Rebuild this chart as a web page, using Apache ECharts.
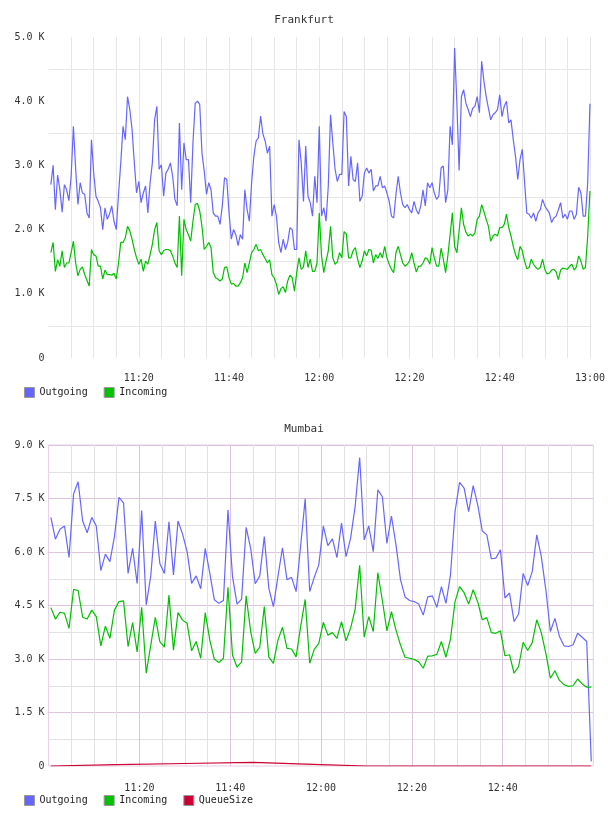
<!DOCTYPE html>
<html>
<head>
<meta charset="utf-8">
<title>Frankfurt / Mumbai</title>
<script src="https://cdn.jsdelivr.net/npm/echarts@6/dist/echarts.min.js"></script>
<style>
  html, body { margin: 0; padding: 0; background: #fff; }
  #chart { width: 608px; height: 816px; }
</style>
</head>
<body>
<div id="chart"></div>
<script>
// x values are minutes after 11:00, y values are in thousands (K)
const frankfurtStart = 0.5
const frankfurtStep = 0.5
const frankfurtOutgoing = [
  2.70, 3.00, 2.31, 2.85, 2.62, 2.27, 2.70, 2.62, 2.45, 2.83,
  3.61, 2.94, 2.39, 2.73, 2.57, 2.55, 2.26, 2.18, 3.40, 2.88,
  2.52, 2.44, 2.34, 2.00, 2.34, 2.16, 2.24, 2.37, 2.13, 2.00,
  2.55, 3.04, 3.61, 3.40, 4.07, 3.87, 3.56, 3.04, 2.57, 2.75,
  2.42, 2.57, 2.68, 2.26, 2.73, 3.04, 3.71, 3.92, 2.94, 3.01,
  2.52, 2.88, 2.94, 3.04, 2.83, 2.47, 2.37, 3.66, 2.62, 3.35,
  3.09, 3.09, 2.42, 3.35, 3.97, 4.00, 3.95, 3.19, 2.91, 2.55,
  2.73, 2.62, 2.26, 2.21, 2.21, 2.08, 2.37, 2.81, 2.78, 2.26,
  1.85, 2.00, 1.92, 1.75, 1.92, 1.85, 2.62, 2.31, 2.13, 2.73,
  3.14, 3.38, 3.43, 3.77, 3.49, 3.38, 3.19, 3.30, 2.21, 2.39,
  2.21, 1.80, 1.64, 1.85, 1.69, 1.80, 2.03, 2.00, 1.69, 1.69,
  3.40, 3.04, 2.44, 3.30, 2.52, 2.42, 2.21, 2.83, 2.42, 3.61,
  2.21, 2.34, 2.13, 2.68, 3.79, 3.35, 2.94, 2.75, 2.86, 2.86,
  3.84, 3.76, 2.68, 3.14, 2.78, 2.75, 3.04, 2.44, 2.52, 2.88,
  2.96, 2.88, 2.94, 2.60, 2.68, 2.68, 2.83, 2.65, 2.68, 2.57,
  2.44, 2.21, 2.18, 2.55, 2.83, 2.57, 2.39, 2.34, 2.39, 2.31,
  2.26, 2.44, 2.31, 2.24, 2.37, 2.62, 2.37, 2.73, 2.65, 2.73,
  2.57, 2.47, 2.52, 2.96, 2.99, 2.42, 2.62, 3.61, 3.32, 4.83,
  3.97, 2.92, 4.07, 4.18, 3.97, 3.87, 3.76, 3.89, 3.92, 4.07,
  3.82, 4.62, 4.31, 4.07, 3.89, 3.71, 3.79, 3.82, 3.87, 4.10,
  3.76, 3.92, 4.00, 3.66, 3.71, 3.40, 3.14, 2.78, 3.09, 3.25,
  2.75, 2.26, 2.24, 2.18, 2.26, 2.13, 2.26, 2.31, 2.47, 2.37,
  2.31, 2.26, 2.11, 2.18, 2.21, 2.31, 2.42, 2.18, 2.24, 2.16,
  2.29, 2.29, 2.16, 2.24, 2.66, 2.57, 2.21, 2.21, 2.73, 3.96
]
const frankfurtIncoming = [
  1.64, 1.80, 1.35, 1.53, 1.43, 1.67, 1.41, 1.48, 1.48, 1.64,
  1.82, 1.48, 1.28, 1.38, 1.42, 1.30, 1.21, 1.12, 1.69, 1.61,
  1.59, 1.43, 1.43, 1.23, 1.37, 1.30, 1.30, 1.29, 1.32, 1.23,
  1.48, 1.80, 1.80, 1.87, 2.05, 1.98, 1.85, 1.69, 1.56, 1.46,
  1.54, 1.35, 1.51, 1.46, 1.61, 1.77, 2.00, 2.11, 1.67, 1.61,
  1.67, 1.69, 1.69, 1.67, 1.59, 1.48, 1.41, 2.21, 1.28, 2.16,
  2.00, 1.92, 1.82, 2.13, 2.39, 2.41, 2.29, 2.05, 1.69, 1.74,
  1.80, 1.72, 1.33, 1.25, 1.23, 1.20, 1.23, 1.41, 1.42, 1.25,
  1.15, 1.16, 1.12, 1.12, 1.17, 1.25, 1.48, 1.33, 1.48, 1.64,
  1.69, 1.77, 1.67, 1.69, 1.61, 1.55, 1.48, 1.53, 1.30, 1.25,
  1.15, 0.99, 1.08, 1.11, 1.02, 1.20, 1.29, 1.25, 1.04, 1.33,
  1.56, 1.38, 1.42, 1.67, 1.41, 1.54, 1.35, 1.35, 1.48, 2.26,
  1.59, 1.33, 1.51, 1.67, 2.05, 1.56, 1.46, 1.50, 1.64, 1.56,
  1.97, 1.93, 1.56, 1.56, 1.67, 1.72, 1.54, 1.41, 1.51, 1.67,
  1.59, 1.69, 1.68, 1.48, 1.61, 1.55, 1.64, 1.56, 1.74, 1.56,
  1.46, 1.38, 1.33, 1.64, 1.74, 1.61, 1.48, 1.43, 1.46, 1.51,
  1.64, 1.48, 1.34, 1.43, 1.43, 1.48, 1.56, 1.54, 1.46, 1.72,
  1.56, 1.43, 1.43, 1.71, 1.54, 1.33, 1.59, 1.92, 2.26, 1.74,
  1.64, 1.98, 2.34, 2.08, 1.96, 1.90, 1.93, 1.90, 1.95, 2.16,
  2.21, 2.39, 2.28, 2.16, 2.05, 1.82, 1.90, 1.93, 1.90, 2.03,
  2.03, 2.08, 2.24, 2.03, 1.90, 1.74, 1.61, 1.53, 1.74, 1.67,
  1.51, 1.39, 1.41, 1.54, 1.46, 1.41, 1.38, 1.41, 1.54, 1.38,
  1.31, 1.32, 1.37, 1.38, 1.34, 1.22, 1.37, 1.40, 1.39, 1.38,
  1.43, 1.46, 1.37, 1.42, 1.59, 1.51, 1.38, 1.41, 1.90, 2.60
]

const mumbaiStart = 0.5
const mumbaiStep = 1
const mumbaiOutgoing = [
  6.97, 6.36, 6.64, 6.73, 5.85, 7.63, 7.97, 6.87, 6.54, 6.97,
  6.73, 5.48, 5.94, 5.73, 6.43, 7.53, 7.38, 5.40, 6.10, 5.12,
  7.16, 4.52, 5.33, 6.87, 5.68, 5.40, 6.85, 5.36, 6.87, 6.50,
  6.01, 5.12, 5.33, 4.97, 6.10, 5.40, 4.66, 4.56, 4.64, 7.18,
  5.31, 4.54, 4.68, 6.69, 6.10, 5.11, 5.33, 6.43, 4.98, 4.47,
  5.31, 6.12, 5.22, 5.29, 4.89, 6.17, 7.49, 4.89, 5.29, 5.64,
  6.73, 6.18, 6.37, 5.84, 6.81, 5.87, 6.38, 7.27, 8.65, 6.34,
  6.73, 6.01, 7.74, 7.55, 6.24, 7.01, 6.20, 5.22, 4.74, 4.64,
  4.61, 4.54, 4.23, 4.74, 4.77, 4.45, 5.03, 4.56, 5.36, 7.13,
  7.95, 7.79, 7.13, 7.86, 7.32, 6.59, 6.48, 5.81, 5.83, 6.06,
  4.71, 4.85, 4.05, 4.26, 5.40, 5.06, 5.45, 6.48, 5.87, 4.94,
  3.77, 4.14, 3.63, 3.37, 3.35, 3.40, 3.72, 3.61, 3.49, 0.13
]
const mumbaiIncoming = [
  4.44, 4.12, 4.31, 4.28, 3.86, 4.95, 4.92, 4.17, 4.12, 4.37,
  4.19, 3.37, 3.92, 3.58, 4.37, 4.61, 4.63, 3.35, 4.02, 3.20,
  4.45, 2.60, 3.39, 4.17, 3.49, 3.33, 4.79, 3.25, 4.30, 4.09,
  4.00, 3.23, 3.49, 3.02, 4.30, 3.53, 2.99, 2.90, 3.02, 5.01,
  3.11, 2.77, 2.92, 4.77, 3.77, 3.16, 3.33, 4.47, 3.05, 2.88,
  3.53, 3.89, 3.30, 3.28, 3.06, 3.91, 4.67, 2.88, 3.27, 3.44,
  4.03, 3.67, 3.74, 3.58, 4.05, 3.51, 3.86, 4.39, 5.63, 3.61,
  4.19, 3.77, 5.42, 4.64, 3.79, 4.33, 3.81, 3.39, 3.05, 3.02,
  2.99, 2.92, 2.74, 3.08, 3.09, 3.13, 3.49, 3.05, 3.56, 4.61,
  5.03, 4.86, 4.54, 4.94, 4.60, 4.10, 4.16, 3.74, 3.72, 3.79,
  3.09, 3.12, 2.60, 2.79, 3.47, 3.24, 3.46, 4.10, 3.74, 3.16,
  2.46, 2.67, 2.40, 2.28, 2.23, 2.25, 2.44, 2.30, 2.21, 2.21
]
const mumbaiQueueTimes = [0.5, 15, 30, 45, 60, 70, 119.5]
const mumbaiQueueSize = [0, 0.04, 0.07, 0.10, 0.04, 0, 0]

const FONT = 'DejaVu Sans Mono'
const OUT_COLOR = '#6666ff'
const IN_COLOR = '#00c000'
const QUEUE_COLOR = '#cc0033'

function toPoints(values, start, step) {
  return values.map((v, i) => [start + i * step, v])
}

function timeLabel(v) {
  if (v <= 0 || v % 20 !== 0) return ''
  const m = 660 + v
  return Math.floor(m / 60) + ':' + String(m % 60).padStart(2, '0')
}

function kLabel(v) {
  return v === 0 ? '0' : v.toFixed(1) + ' K'
}

const labelStyle = { fontFamily: FONT, fontSize: 10, color: '#333' }

function lineSeries(name, color, data, idx) {
  return {
    name: name,
    type: 'line',
    xAxisIndex: idx,
    yAxisIndex: idx,
    data: data,
    showSymbol: false,
    color: color,
    lineStyle: { width: 1.2, color: color },
    animation: false
  }
}

const chart = echarts.init(document.getElementById('chart'))

chart.setOption({
  animation: false,
  title: [
    { text: 'Frankfurt', left: 'center', top: 15, padding: 0,
      textStyle: { fontFamily: FONT, fontSize: 11, fontWeight: 'normal', color: '#333' } },
    { text: 'Mumbai', left: 'center', top: 424, padding: 0,
      textStyle: { fontFamily: FONT, fontSize: 11, fontWeight: 'normal', color: '#333' } }
  ],
  legend: [
    { data: ['Outgoing', 'Incoming'], top: 387, left: 24, padding: 0,
      icon: 'rect', itemWidth: 10, itemHeight: 10, itemGap: 16,
      itemStyle: { borderColor: '#999', borderWidth: 1 },
      textStyle: { fontFamily: FONT, fontSize: 10, color: '#222' } },
    { data: ['Outgoing', 'Incoming', 'QueueSize'], top: 795, left: 24, padding: 0,
      icon: 'rect', itemWidth: 10, itemHeight: 10, itemGap: 16,
      itemStyle: { borderColor: '#999', borderWidth: 1 },
      textStyle: { fontFamily: FONT, fontSize: 10, color: '#222' } }
  ],
  grid: [
    { left: 48.6, top: 37, width: 545.4, height: 321, show: false },
    { left: 48.6, top: 445, width: 544.7, height: 321, show: true,
      borderColor: '#e6cde6', borderWidth: 1, backgroundColor: 'transparent' }
  ],
  xAxis: [
    {
      gridIndex: 0, type: 'value', min: 0, max: 120.1, interval: 20,
      axisLine: { show: false }, axisTick: { show: false },
      axisLabel: Object.assign({ formatter: timeLabel, margin: 15 }, labelStyle),
      splitLine: { show: true, showMinLine: false, showMaxLine: false, lineStyle: { color: '#e6e6e6' } },
      minorTick: { show: false, splitNumber: 4 },
      minorSplitLine: { show: true, lineStyle: { color: '#e6e6e6' } }
    },
    {
      gridIndex: 1, type: 'value', min: 0, max: 119.95, interval: 20,
      axisLine: { show: false }, axisTick: { show: false },
      axisLabel: Object.assign({ formatter: timeLabel, margin: 17 }, labelStyle),
      splitLine: { show: true, showMinLine: false, showMaxLine: false, lineStyle: { color: '#dcc4dc' } },
      minorTick: { show: false, splitNumber: 4 },
      minorSplitLine: { show: true, lineStyle: { color: '#e2e2e2' } }
    }
  ],
  yAxis: [
    {
      gridIndex: 0, type: 'value', min: 0, max: 5, interval: 1,
      axisLine: { show: false }, axisTick: { show: false },
      axisLabel: Object.assign({ formatter: kLabel, margin: 4 }, labelStyle),
      splitLine: { show: false },
      minorTick: { show: false, splitNumber: 2 },
      minorSplitLine: { show: true, lineStyle: { color: '#e6e6e6' } }
    },
    {
      gridIndex: 1, type: 'value', min: 0, max: 9, interval: 1.5,
      axisLine: { show: false }, axisTick: { show: false },
      axisLabel: Object.assign({ formatter: kLabel, margin: 4 }, labelStyle),
      splitLine: { show: true, showMinLine: false, lineStyle: { color: '#dcc4dc' } },
      minorTick: { show: false, splitNumber: 2 },
      minorSplitLine: { show: true, lineStyle: { color: '#e2e2e2' } }
    }
  ],
  series: [
    lineSeries('Outgoing', OUT_COLOR, toPoints(frankfurtOutgoing, frankfurtStart, frankfurtStep), 0),
    lineSeries('Incoming', IN_COLOR, toPoints(frankfurtIncoming, frankfurtStart, frankfurtStep), 0),
    lineSeries('Outgoing', OUT_COLOR, toPoints(mumbaiOutgoing, mumbaiStart, mumbaiStep), 1),
    lineSeries('Incoming', IN_COLOR, toPoints(mumbaiIncoming, mumbaiStart, mumbaiStep), 1),
    lineSeries('QueueSize', QUEUE_COLOR, mumbaiQueueTimes.map((t, i) => [t, mumbaiQueueSize[i]]), 1)
  ]
})
</script>
</body>
</html>
